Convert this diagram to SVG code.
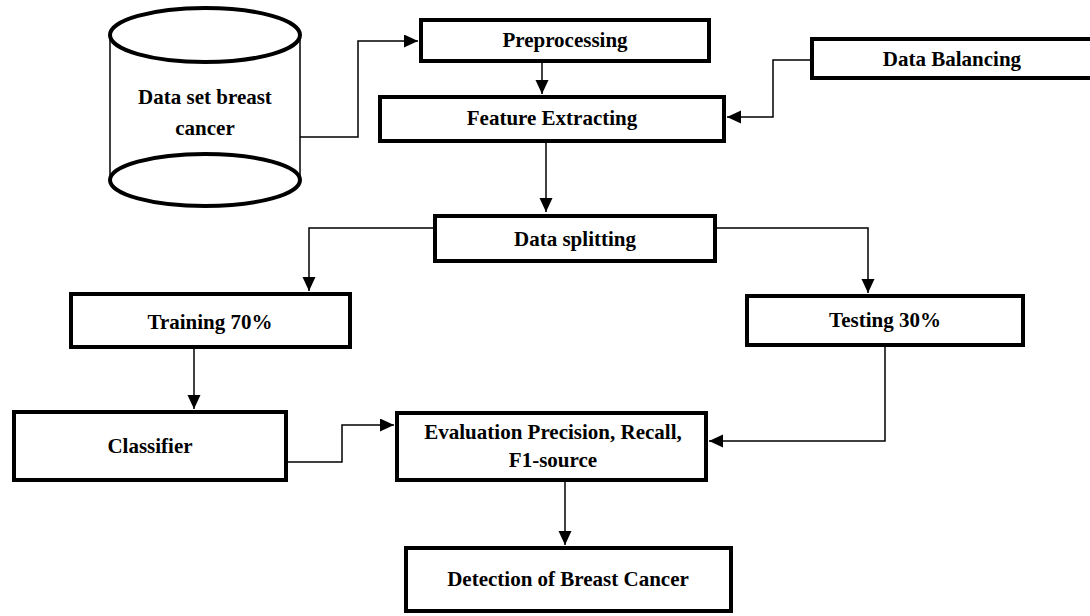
<svg xmlns="http://www.w3.org/2000/svg" width="1090" height="616" viewBox="0 0 1090 616">
<defs>
<marker id="arr" markerUnits="userSpaceOnUse" markerWidth="16" markerHeight="14" refX="14" refY="6.5" orient="auto">
<path d="M0,0 L14,6.5 L0,13 Z" fill="#000"/>
</marker>
<style>
.box{fill:#fff;stroke:#000;stroke-width:4;}
.cyl{fill:#fff;stroke:#000;stroke-width:4;}
.side{stroke:#000;stroke-width:1.5;fill:none;}
.lbl{font-family:"Liberation Serif","Times New Roman",serif;font-weight:bold;font-size:21px;fill:#000;text-anchor:middle;dominant-baseline:central;}
.con{fill:none;stroke:#000;stroke-width:1.5;}
</style>
</defs>
<rect width="1090" height="616" fill="#fff"/>
<g id="dataset">
<line class="side" x1="110" y1="35" x2="110" y2="180"/>
<line class="side" x1="300" y1="35" x2="300" y2="180"/>
<ellipse class="cyl" cx="205" cy="35" rx="95" ry="27"/>
<ellipse class="cyl" cx="205" cy="180" rx="95" ry="26"/>
<text class="lbl" x="205" y="97">Data set breast</text>
<text class="lbl" x="205" y="128">cancer</text>
</g>
<g id="preprocessing">
<rect class="box" x="421" y="20" width="288" height="41"/>
<text class="lbl" x="565" y="40">Preprocessing</text>
</g>
<g id="feature">
<rect class="box" x="380" y="97" width="344" height="44"/>
<text class="lbl" x="552" y="118">Feature Extracting</text>
</g>
<g id="balancing">
<rect class="box" x="812" y="39" width="290" height="39"/>
<text class="lbl" x="952" y="59">Data Balancing</text>
</g>
<g id="splitting">
<rect class="box" x="435" y="216" width="280" height="45"/>
<text class="lbl" x="575" y="239">Data splitting</text>
</g>
<g id="training">
<rect class="box" x="71" y="294" width="279" height="53"/>
<text class="lbl" x="210" y="322">Training 70%</text>
</g>
<g id="testing">
<rect class="box" x="747" y="296" width="276" height="49"/>
<text class="lbl" x="885" y="320">Testing 30%</text>
</g>
<g id="classifier">
<rect class="box" x="14" y="412" width="272" height="68"/>
<text class="lbl" x="150" y="446">Classifier</text>
</g>
<g id="evaluation">
<rect class="box" x="397" y="413" width="309" height="67"/>
<text class="lbl" x="553" y="432">Evaluation Precision, Recall,</text>
<text class="lbl" x="553" y="460">F1-source</text>
</g>
<g id="detection">
<rect class="box" x="406" y="548" width="325" height="63"/>
<text class="lbl" x="568" y="579">Detection of Breast Cancer</text>
</g>
<g id="connectors">
<polyline class="con" points="300,137 358,137 358,41 418,41" marker-end="url(#arr)"/>
<polyline class="con" points="542,61 542,94" marker-end="url(#arr)"/>
<polyline class="con" points="810,60 773,60 773,117 727,117" marker-end="url(#arr)"/>
<polyline class="con" points="546,142 546,212" marker-end="url(#arr)"/>
<polyline class="con" points="433,228 309,228 309,291" marker-end="url(#arr)"/>
<polyline class="con" points="717,228 868,228 868,293" marker-end="url(#arr)"/>
<polyline class="con" points="194,349 194,409" marker-end="url(#arr)"/>
<polyline class="con" points="288,462 342,462 342,425 394,425" marker-end="url(#arr)"/>
<polyline class="con" points="885,347 885,441 709,441" marker-end="url(#arr)"/>
<polyline class="con" points="565,482 565,545" marker-end="url(#arr)"/>
</g>
</svg>
